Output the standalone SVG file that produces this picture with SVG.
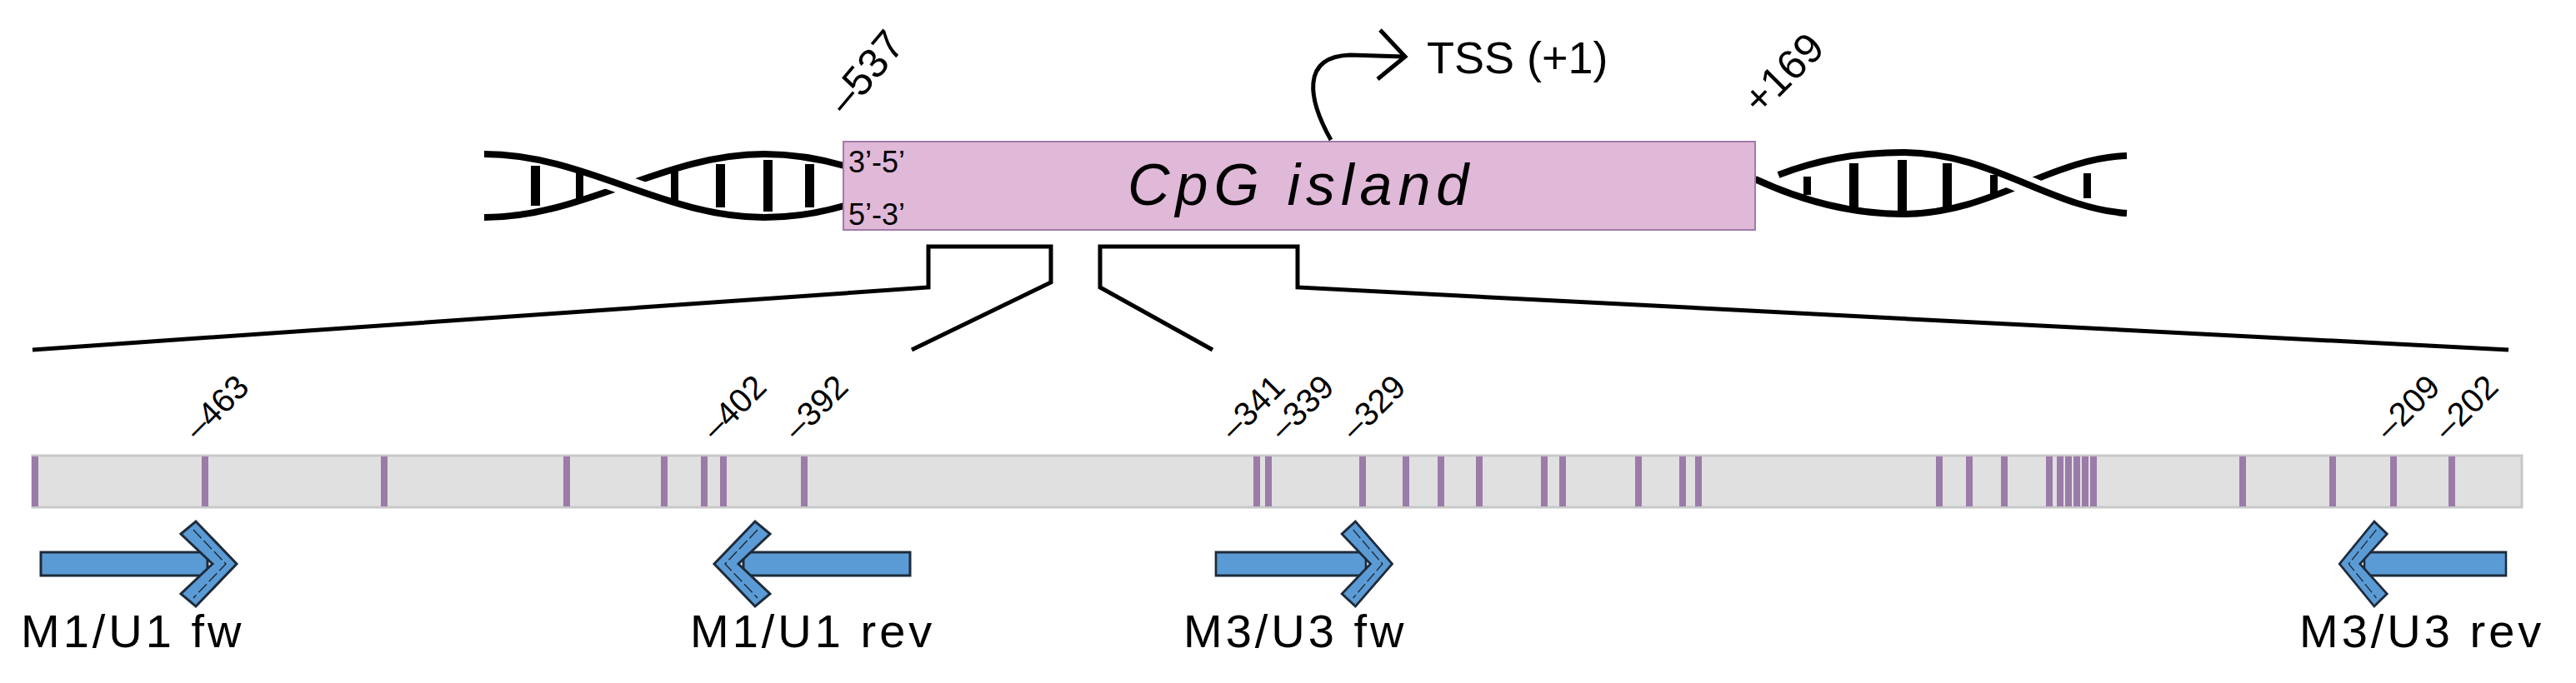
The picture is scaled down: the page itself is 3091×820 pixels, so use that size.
<svg xmlns="http://www.w3.org/2000/svg" width="3091" height="820" viewBox="0 0 3091 820">
<style>
text{font-family:"Liberation Sans",Arial,sans-serif;fill:#000}
.strand{fill:none;stroke:#000;stroke-width:8}
.mask{fill:none;stroke:#fff;stroke-width:24}
.rung{fill:#000}
.zoom{fill:none;stroke:#000;stroke-width:5}
.tick{stroke:#9b7ba8;stroke-width:8}
.pos{font-size:40px}
.lab{font-size:56px;letter-spacing:4px}
.prim{fill:#5b9bd5;stroke:#1e2b3a;stroke-width:3;stroke-linejoin:miter}
.inner{fill:none;stroke:#1e2b3a;stroke-width:1.5;stroke-dasharray:14 4}
</style>
<defs>
<g id="fwArrow">
<rect x="0" y="-14" width="200" height="28" class="prim"/>
<polygon points="168,-36 186,-51 235,0 186,51 168,36 206,0" class="prim"/>
<polyline points="183,-41 222,0 183,41" class="inner"/>
</g>
</defs>
<g id="dna-left">
<path class="strand" d="M581,261 C702,261 796,185 917,185 C955,185 985,191 1013,199"/>
<path class="mask" d="M600,186 C712,188 796,261 917,261"/>
<path class="strand" d="M581,185 C702,185 796,261 917,261 C955,261 985,255 1013,247"/>
<rect class="rung" x="637" y="199" width="11" height="48"/>
<rect class="rung" x="691" y="208" width="9" height="30"/>
<rect class="rung" x="805" y="206" width="9" height="34"/>
<rect class="rung" x="859" y="197" width="11" height="52"/>
<rect class="rung" x="916" y="192" width="11" height="62"/>
<rect class="rung" x="966" y="197" width="11" height="52"/>
</g>
<g id="dna-right">
<path class="strand" d="M2106,215 C2160,240 2220,257 2283,257 C2390,257 2460,190 2552,187"/>
<path class="mask" d="M2300,188 C2390,186 2460,250 2540,256"/>
<path class="strand" d="M2134,210 C2180,192 2230,183 2283,183 C2390,183 2460,250 2552,256"/>
<rect class="rung" x="2164" y="212" width="9" height="22"/>
<rect class="rung" x="2219" y="196" width="11" height="54"/>
<rect class="rung" x="2277" y="192" width="11" height="62"/>
<rect class="rung" x="2331" y="196" width="11" height="54"/>
<rect class="rung" x="2388" y="210" width="9" height="26"/>
<rect class="rung" x="2500" y="208" width="9" height="30"/>
</g>
<g id="cpg-island">
<rect x="1012" y="170" width="1094" height="106" fill="#e0b8d8" stroke="#a07aa8" stroke-width="2"/>
<text x="1018" y="207" font-size="36">3’-5’</text>
<text x="1018" y="270" font-size="36">5’-3’</text>
<text x="1353" y="246" font-size="70" font-style="italic" letter-spacing="7">CpG island</text>
<text transform="translate(1016,140) rotate(-50)" font-size="50">–537</text>
<text transform="translate(2112,140) rotate(-45)" font-size="50">+169</text>
</g>
<g id="tss">
<path d="M1597,168 C1570,120 1560,68 1620,66 L1684,68" fill="none" stroke="#000" stroke-width="5"/>
<path d="M1656,36 L1686,68 L1653,95" fill="none" stroke="#000" stroke-width="5"/>
<text x="1712" y="88" font-size="54">TSS (+1)</text>
</g>
<g id="connectors">
<polyline class="zoom" points="39,420 1114,345 1114,296 1261,296 1261,339 1094,420"/>
<polyline class="zoom" points="1455,420 1320,345 1320,296 1557,296 1557,345 3010,420"/>
</g>
<g id="region">
<rect x="39" y="547" width="2987" height="62" fill="#e0e0e0" stroke="#c8c8c8" stroke-width="3"/>
<g class="tick">
<line x1="42" y1="548" x2="42" y2="608"/><line x1="246" y1="548" x2="246" y2="608"/><line x1="461" y1="548" x2="461" y2="608"/><line x1="680" y1="548" x2="680" y2="608"/><line x1="797" y1="548" x2="797" y2="608"/><line x1="845" y1="548" x2="845" y2="608"/><line x1="868" y1="548" x2="868" y2="608"/><line x1="965" y1="548" x2="965" y2="608"/><line x1="1508" y1="548" x2="1508" y2="608"/><line x1="1522" y1="548" x2="1522" y2="608"/><line x1="1635" y1="548" x2="1635" y2="608"/><line x1="1687" y1="548" x2="1687" y2="608"/><line x1="1729" y1="548" x2="1729" y2="608"/><line x1="1775" y1="548" x2="1775" y2="608"/><line x1="1853" y1="548" x2="1853" y2="608"/><line x1="1875" y1="548" x2="1875" y2="608"/><line x1="1966" y1="548" x2="1966" y2="608"/><line x1="2019" y1="548" x2="2019" y2="608"/><line x1="2038" y1="548" x2="2038" y2="608"/><line x1="2327" y1="548" x2="2327" y2="608"/><line x1="2363" y1="548" x2="2363" y2="608"/><line x1="2405" y1="548" x2="2405" y2="608"/><line x1="2459" y1="548" x2="2459" y2="608"/><line x1="2472" y1="548" x2="2472" y2="608"/><line x1="2482" y1="548" x2="2482" y2="608"/><line x1="2492" y1="548" x2="2492" y2="608"/><line x1="2502" y1="548" x2="2502" y2="608"/><line x1="2512" y1="548" x2="2512" y2="608"/><line x1="2691" y1="548" x2="2691" y2="608"/><line x1="2799" y1="548" x2="2799" y2="608"/><line x1="2872" y1="548" x2="2872" y2="608"/><line x1="2942" y1="548" x2="2942" y2="608"/>
</g>
<text class="pos" transform="translate(238,530) rotate(-45)">–463</text>
<text class="pos" transform="translate(859,530) rotate(-45)">–402</text>
<text class="pos" transform="translate(957,530) rotate(-45)">–392</text>
<text class="pos" transform="translate(1481,530) rotate(-45)">–341</text>
<text class="pos" transform="translate(1540,530) rotate(-45)">–339</text>
<text class="pos" transform="translate(1626,530) rotate(-45)">–329</text>
<text class="pos" transform="translate(2867,530) rotate(-45)">–209</text>
<text class="pos" transform="translate(2937,530) rotate(-45)">–202</text>
</g>
<g id="m1u1-fw">
<use href="#fwArrow" transform="translate(49,677)"/>
<text class="lab" x="25" y="777">M1/U1 fw</text>
</g>
<g id="m1u1-rev">
<use href="#fwArrow" transform="translate(1092,677) scale(-1,1)"/>
<text class="lab" x="828" y="777">M1/U1 rev</text>
</g>
<g id="m3u3-fw">
<use href="#fwArrow" transform="translate(1459,677) scale(0.9,1)"/>
<text class="lab" x="1420" y="777">M3/U3 fw</text>
</g>
<g id="m3u3-rev">
<use href="#fwArrow" transform="translate(3007,677) scale(-0.85,1)"/>
<text class="lab" x="2759" y="777">M3/U3 rev</text>
</g>
</svg>
